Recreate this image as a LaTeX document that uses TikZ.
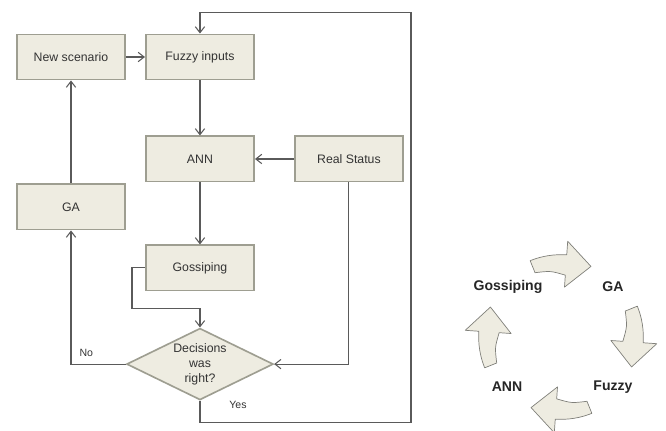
\documentclass[tikz,border=0pt]{standalone}
\usepackage{fontspec}
\setmainfont{Liberation Sans}
\usepackage{xcolor}
\usepackage{tikz}
\usetikzlibrary{positioning,shapes.geometric,arrows.meta}
\definecolor{boxfill}{RGB}{238,236,225}
\definecolor{boxline}{RGB}{158,158,145}
\definecolor{lineclr}{RGB}{90,90,90}
\definecolor{cycline}{RGB}{128,128,122}
\tikzstyle{process}=[rectangle, draw=boxline, line width=1.4pt, fill=boxfill,
        text centered, minimum width=3.25cm, minimum height=1.36cm,
        font=\fontsize{10.5}{12.8}\selectfont, text=black!80]
\tikzstyle{decision}=[diamond, aspect=2, draw=boxline, line width=1.4pt, fill=boxfill,
        align=center, inner sep=0pt, minimum width=4.4cm, minimum height=2.15cm,
        font=\fontsize{10.5}{12.8}\selectfont, text=black!80]
\tikzstyle{conn}=[draw=lineclr, line width=0.9pt, -{Straight Barb[length=1.8mm,width=2.8mm]}]
\tikzstyle{lab}=[font=\fontsize{9}{11}\selectfont, text=black!80]
\tikzstyle{cycarrow}=[draw=cycline, line width=0.6pt, fill=boxfill, line join=round]
\tikzstyle{cyclabel}=[font=\fontsize{12}{14}\selectfont\bfseries, text=black!85]

\begin{document}
\begin{tikzpicture}[node distance=0.57cm]
        \useasboundingbox (0,0) rectangle (19.98,-12.9);
        % flow chart
        \node (newsc) [process] at (2.13,-1.71) {New scenario};
        \node (fuzzy) [process, right=of newsc] {Fuzzy inputs};
        \node (ann) [process, below=1.65cm of fuzzy] {ANN};
        \node (real) [process, right=1.17cm of ann] {Real Status};
        \node (ga) [process, below=3.09cm of newsc] {GA};
        \node (goss) [process, below=1.86cm of ann] {Gossiping};
        \node (dec) [decision, below=1.08cm of goss] {Decisions\\was\\right?};

        \draw[conn] (newsc.east) -- (fuzzy.west);
        \draw[conn] (fuzzy.south) -- (ann.north);
        \draw[conn] (real.west) -- (ann.east);
        \draw[conn] (ann.south) -- (goss.north);
        \draw[conn] (goss.west) -- ++(-0.39,0) |- ([yshift=0.57cm]dec.north) -- (dec.north);
        \draw[conn] (real.south) |- (dec.east);
        \draw[conn] (dec.west) -| node[lab, pos=0.36, above=3pt] {No} (ga.south);
        \draw[conn] (ga.north) -- (newsc.south);
        \draw[conn] (dec.south) -- ++(0,-0.66) node[lab, pos=0.2, right=0.75cm] {Yes}
              -| ([xshift=6.33cm,yshift=0.63cm]fuzzy.north) -| (fuzzy.north);

        % cycle
        \begin{scope}[shift={(16.83,-10.11)}]
          \foreach \c in {90,0,-90,180}
            \draw[cycarrow] (\c+22:2.47) arc[start angle=\c+22, end angle=\c-4, radius=2.47]
              -- (\c-4:2.55) -- (\c-4:2.88) -- (\c-23:2.3) -- (\c-4:1.5) -- (\c-4:1.86)
              .. controls (\c+9:2.01) .. (\c+22:2.08) -- cycle;
          \node (cgoss) [cyclabel] at (-1.59,1.5) {Gossiping};
          \node (cga) [cyclabel] at (1.56,1.5) {GA};
          \node (cfuzzy) [cyclabel] at (1.56,-1.5) {Fuzzy};
          \node (cann) [cyclabel] at (-1.62,-1.5) {ANN};
        \end{scope}
      \end{tikzpicture}
\end{document}
